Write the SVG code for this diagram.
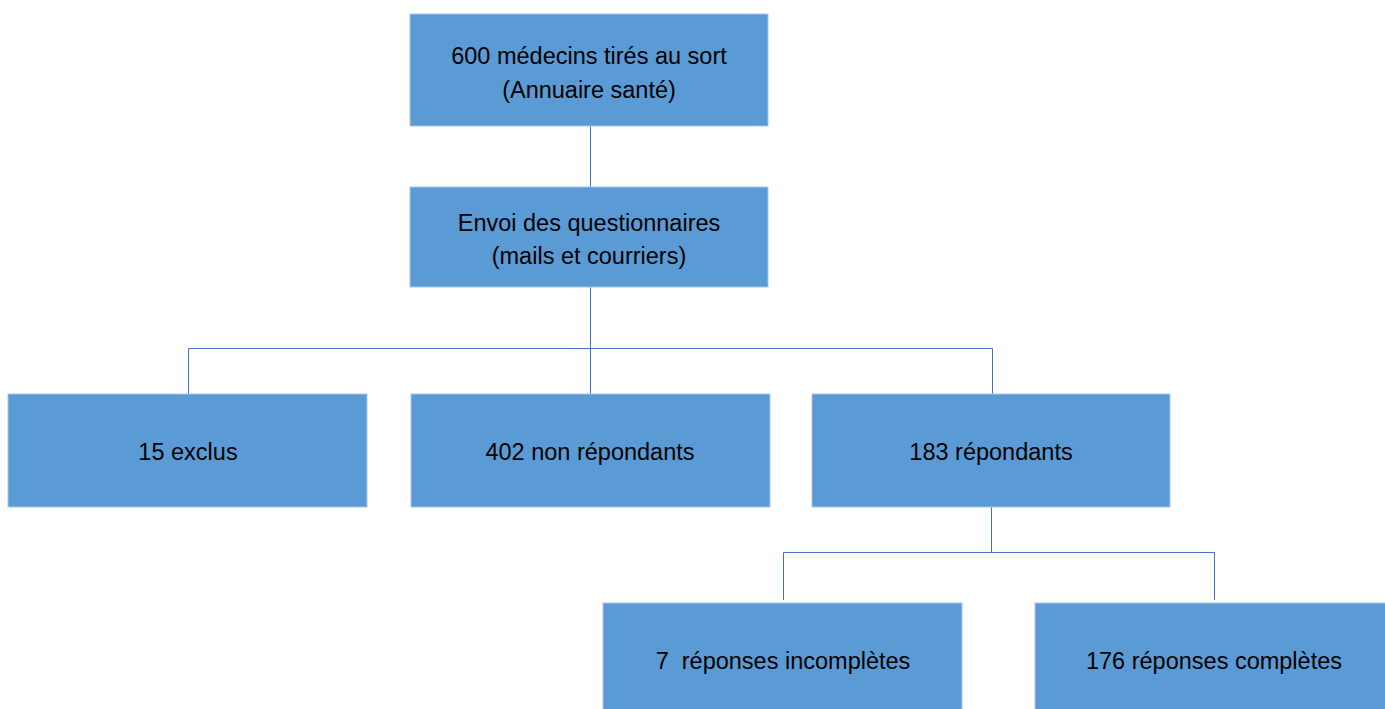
<svg xmlns="http://www.w3.org/2000/svg" width="1385" height="709" viewBox="0 0 1385 709">
<style>
.box{fill:#5B9BD5;stroke:#A9C5E8;stroke-width:1}
.lbl{font-family:"Liberation Sans",Arial,sans-serif;font-size:23.5px;fill:#000;text-anchor:middle;white-space:pre}
.con{fill:none;stroke:#4472C4;stroke-width:1}
</style>
<rect width="1385" height="709" fill="#fff"/>
<g id="connectors">
<path class="con" d="M590.5 126V187"/>
<path class="con" d="M590.5 287V394"/>
<path class="con" d="M188.5 394V348.5H992.5V394"/>
<path class="con" d="M991.5 507V552.5"/>
<path class="con" d="M783.5 600V552.5H1214.5V600"/>
</g>
<g id="n1"><rect class="box" x="410" y="14" width="358" height="112"/><text class="lbl" x="589" y="64">600 médecins tirés au sort</text><text class="lbl" x="589" y="98">(Annuaire santé)</text></g>
<g id="n2"><rect class="box" x="410" y="187" width="358" height="100"/><text class="lbl" x="589" y="231">Envoi des questionnaires</text><text class="lbl" x="589" y="264">(mails et courriers)</text></g>
<g id="n3"><rect class="box" x="8" y="394" width="359" height="113"/><text class="lbl" x="188" y="460">15 exclus</text></g>
<g id="n4"><rect class="box" x="411" y="394" width="359" height="113"/><text class="lbl" x="590" y="460">402 non répondants</text></g>
<g id="n5"><rect class="box" x="812" y="394" width="358" height="113"/><text class="lbl" x="991" y="460">183 répondants</text></g>
<g id="n6"><rect class="box" x="603" y="603" width="359" height="110"/><text class="lbl" x="783" y="669" xml:space="preserve">7  réponses incomplètes</text></g>
<g id="n7"><rect class="box" x="1035" y="603" width="355" height="110"/><text class="lbl" x="1214" y="669">176 réponses complètes</text></g>
</svg>
